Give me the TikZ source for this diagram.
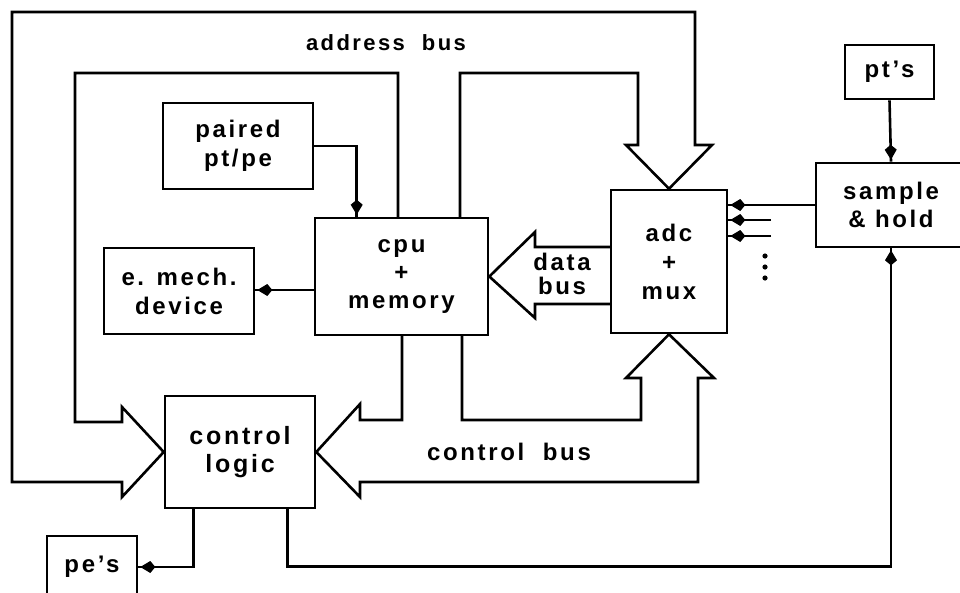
\documentclass[tikz,border=0pt]{standalone}
\usepackage{fontspec}
\setmainfont{Liberation Sans}[LetterSpace=11]
\usetikzlibrary{arrows.meta,decorations.markings,calc}
\begin{document}
\begin{tikzpicture}[x=1pt,y=-1pt,
  box/.style={draw, line width=2.6pt, inner sep=0pt, align=center,
    font=\bfseries\fontsize{24}{29}\selectfont},
  lbl/.style={inner sep=0pt, align=center, font=\bfseries\fontsize{24}{24}\selectfont},
  bus/.style={draw, line width=2.6pt, line join=miter},
  conn/.style={draw, line width=2.6pt, postaction=decorate,
    decoration={markings, mark=at position -4pt with
      {\fill (2pt,0pt) -- (-8pt,6pt) -- (-13pt,0pt) -- (-8pt,-6pt) -- cycle;}}}
]
\useasboundingbox (0,0) rectangle (960,592);
\clip (0,0) rectangle (960,592);

% boxes
\node[box, minimum width=150pt, minimum height=86pt] (paired) at (238,146) {paired\\pt/pe};
\node[box, minimum width=150pt, minimum height=86pt] (emech) at (179,291) {e. mech.\\device};
\node[box, minimum width=173pt, minimum height=117pt, font=\bfseries\fontsize{24}{28}\selectfont] (cpu) at (401.5,276.5) {\rule{0pt}{10pt}cpu\\+\\memory};
\node[box, minimum width=116pt, minimum height=143pt] (adc) at (669,261.5) {adc\\+\\mux};
\node[box, minimum width=150pt, minimum height=112pt, font=\bfseries\fontsize{25}{28}\selectfont] (ctrl) at (240,452) {control\\logic};
\node[box, minimum width=89pt, minimum height=54pt] (pts) at (889.5,72) {pt's};
\node[box, minimum width=150pt, minimum height=84pt, font=\bfseries\fontsize{24}{28}\selectfont] (sh) at (891,205) {sample\\\& hold};
\node[box, minimum width=90pt, minimum height=62pt] (pes) at (92,567) {pe's};

% labels
\node[lbl, font=\bfseries\fontsize{22}{24}\selectfont] (abus) at (386,43) {address\ \ bus};
\node[lbl] (dbus) at (562,274) {data\\bus};
\node[lbl] (cbus) at (509,452) {control\ \ bus};

% address bus
\draw[bus] (398,218) -- (398,73) -- (75,73) -- (75,422) -- (122,422) -- (122,407)
  -- (ctrl.west) -- (122,497) -- (122,482) -- (12,482) -- (12,12) -- (695,12)
  -- (695,145) -- (712,145) -- (adc.north) -- (626,145) -- (638,145) -- (638,73)
  -- (460,73) -- (460,218);

% control bus
\draw[bus] (402,335) -- (402,420) -- (360,420) -- (360,404) -- (ctrl.east)
  -- (360,497) -- (360,482) -- (698,482) -- (698,378) -- (714,378) -- (adc.south)
  -- (626,378) -- (641,378) -- (641,420) -- (462,420) -- (462,335);

% data bus
\draw[bus] (611,247) -- (535,247) -- (535,232) -- (cpu.east) -- (535,318)
  -- (535,304) -- (611,304);

% connectors
\draw[conn] (paired.east) -| ($(cpu.north west)+(43,0)$);
\draw[conn] ($(cpu.west)+(0,13.5)$) -- ($(emech.east)+(0,-1)$);
\draw[conn] (pts.south) -- (sh.north);
\draw[conn] (sh.west) -- (adc.east |- sh.west);
\coordinate (s1) at (771,220);
\coordinate (s2) at (771,236);
\draw[conn] (s1) -- (adc.east |- s1);
\draw[conn] (s2) -- (adc.east |- s2);
\coordinate (c1) at ($(ctrl.south west)+(124,0)$);
\coordinate (c2) at ($(ctrl.south west)+(30,0)$);
\draw[conn] (c1) -- ($(c1)+(0,57)$) -| (sh.south);
\draw[conn] (c2) |- (pes.east);

% dots
\fill (765,256) circle (2.6pt) (765,267) circle (2.6pt) (765,278) circle (2.6pt);
\end{tikzpicture}
\end{document}
